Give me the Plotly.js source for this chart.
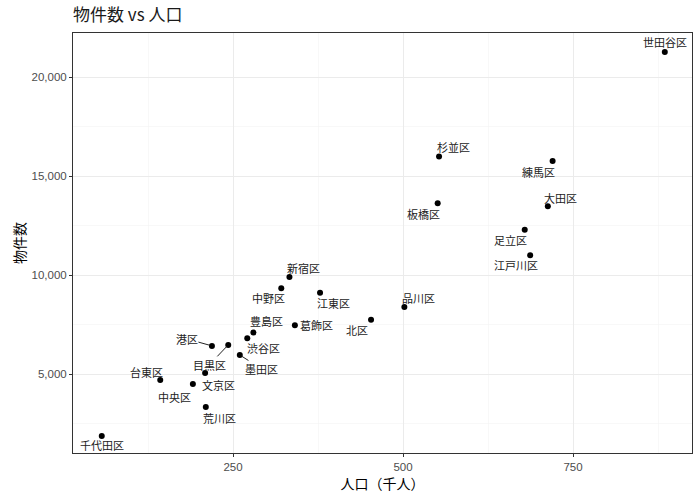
<!DOCTYPE html>
<html>
<head>
<meta charset="utf-8">
<script src="https://cdn.plot.ly/plotly-3.0.1.min.js"></script>
<style>html,body{margin:0;padding:0;background:#fff;}#chart{width:700px;height:500px;}</style>
</head>
<body>
<div id="chart"></div>
<script>
// Data
const wards = ["千代田区","台東区","中央区","文京区","荒川区","港区","目黒区","墨田区","渋谷区","豊島区","中野区","新宿区","江東区","葛飾区","北区","品川区","杉並区","練馬区","板橋区","大田区","足立区","江戸川区","世田谷区"];
const population = [57, 143, 191, 209, 210, 219, 243, 260, 271, 280, 321, 333, 378, 341, 453, 502, 553, 720, 551, 713, 679, 687, 885];
const listings = [1870, 4700, 4500, 5050, 3330, 6420, 6470, 5960, 6800, 7100, 9330, 9900, 9100, 7460, 7740, 8380, 15990, 15760, 13620, 13470, 12290, 11000, 21260];

// Label placement (pixel offsets from each point) and whether a leader segment is drawn
const labelDx = [0, -14, -18, 13, 14, -25, -19, 22, 16, 13, -13, 14, 13, 22, -14, 14, 14, -14, -14, 13, -14, -14, 0];
const labelDy = [9, -8, 13, 12, 11, -7, 20, 14, 10, -11, 10, -9, 10, 0, 10, -9, -9, 11, 11, -8, 10, 10, -10];
const segment = [0,0,0,0,0,1,1,1,0,0,0,0,0,0,0,0,0,0,0,0,0,0,0];

const FONT = "Liberation Sans, Noto Sans CJK JP, sans-serif";
const LABEL_FONT = "Noto Sans CJK JP, Liberation Sans, sans-serif";

const trace = {
  type: "scatter",
  mode: "markers",
  x: population,
  y: listings,
  text: wards,
  marker: {color: "#000000", size: 6},
  hoverinfo: "text+x+y",
  cliponaxis: false
};

const annotations = wards.map((w, i) => ({
  x: population[i],
  y: listings[i],
  xref: "x",
  yref: "y",
  text: w,
  showarrow: true,
  ax: labelDx[i],
  ay: labelDy[i],
  arrowhead: 0,
  arrowwidth: 1,
  standoff: 2,
  arrowcolor: segment[i] ? "#222222" : "rgba(0,0,0,0)",
  font: {family: LABEL_FONT, size: 11, color: "#222222"},
  borderpad: 0
}));

const layout = {
  width: 700,
  height: 500,
  margin: {l: 73, r: 8, t: 33, b: 47},
  paper_bgcolor: "#ffffff",
  plot_bgcolor: "#ffffff",
  showlegend: false,
  font: {family: FONT, color: "#4d4d4d"},
  title: {
    text: "物件数 vs 人口",
    x: 0, xref: "paper", xanchor: "left",
    y: 1 - 15 / 500, yref: "container", yanchor: "middle",
    font: {family: LABEL_FONT, size: 17, color: "#1a1a1a", weight: 400}
  },
  xaxis: {
    range: [14.7, 925],
    tickvals: [250, 500, 750],
    ticktext: ["250", "500", "750"],
    ticks: "outside", ticklen: 3, tickcolor: "#333333", tickwidth: 1,
    tickfont: {family: FONT, size: 11.5, color: "#4d4d4d"},
    showgrid: true, gridcolor: "#ebebeb", gridwidth: 1,
    minor: {tickvals: [125, 375, 625, 875], showgrid: true, gridcolor: "#f3f3f3", gridwidth: 0.6, ticks: ""},
    zeroline: false,
    showline: true, linecolor: "#333333", linewidth: 1, mirror: true,
    title: {text: "人口（千人）", font: {family: LABEL_FONT, size: 14, color: "#000000"}, standoff: 6}
  },
  yaxis: {
    range: [1010, 22222],
    tickvals: [5000, 10000, 15000, 20000],
    ticktext: ["5,000", "10,000", "15,000", "20,000"],
    ticks: "outside", ticklen: 3, tickcolor: "#333333", tickwidth: 1,
    tickfont: {family: FONT, size: 11.5, color: "#4d4d4d"},
    showgrid: true, gridcolor: "#ebebeb", gridwidth: 1,
    minor: {tickvals: [2500, 7500, 12500, 17500], showgrid: true, gridcolor: "#f3f3f3", gridwidth: 0.6, ticks: ""},
    zeroline: false,
    showline: true, linecolor: "#333333", linewidth: 1, mirror: true,
    title: {text: "物件数", font: {family: LABEL_FONT, size: 14, color: "#000000"}, standoff: 2}
  },
  annotations: annotations
};

Plotly.newPlot("chart", [trace], layout, {displayModeBar: false, staticPlot: true});
</script>
</body>
</html>
